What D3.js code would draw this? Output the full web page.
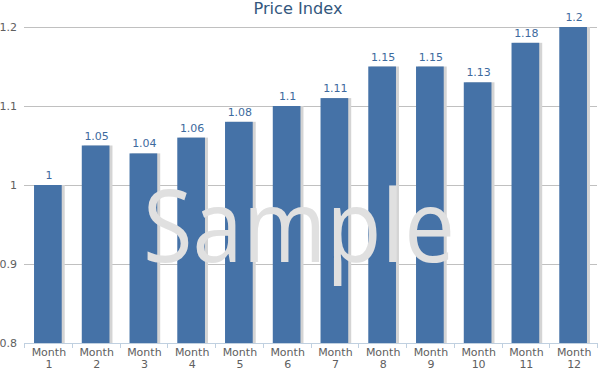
<!DOCTYPE html>
<html><head><meta charset="utf-8">
<script src="https://cdn.jsdelivr.net/npm/d3@7"></script>
<style>body{margin:0;background:#fff}svg{display:block}</style>
</head><body>
<svg id="c" width="599" height="371"></svg>
<script>
const categories = ["Month 1","Month 2","Month 3","Month 4","Month 5","Month 6","Month 7","Month 8","Month 9","Month 10","Month 11","Month 12"];
const values = [1, 1.05, 1.04, 1.06, 1.08, 1.1, 1.11, 1.15, 1.15, 1.13, 1.18, 1.2];
const valueLabels = ["1","1.05","1.04","1.06","1.08","1.1","1.11","1.15","1.15","1.13","1.18","1.2"];
const yTicks = [0.8, 0.9, 1, 1.1, 1.2];
const yTickLabels = ["0.8","0.9","1","1.1","1.2"];
const title = "Price Index";

(function () {
const svg = d3.select("#c");
const font = "DejaVu Sans, Verdana, sans-serif";
const pl = 24, pr = 597, pt = 27, pb = 343;

const x = d3.scaleBand().domain(categories).range([pl, pr]).paddingInner(0.42).paddingOuter(0.21);
const y = d3.scaleLinear().domain([0.8, 1.2]).range([pb, pt]);

svg.append("text").attr("x", 298).attr("y", 14).attr("text-anchor", "middle")
  .attr("font-family", font).attr("font-size", 15).attr("fill", "#34587e")
  .attr("textLength", 89).attr("lengthAdjust", "spacingAndGlyphs").text(title);

// gridlines
svg.append("g").selectAll("line").data(yTicks.slice(1)).join("line")
  .attr("x1", pl).attr("x2", pr).attr("y1", d => Math.round(y(d)) + 0.5).attr("y2", d => Math.round(y(d)) + 0.5)
  .attr("stroke", "#c0c0c0").attr("stroke-width", 1);

// y labels
svg.append("g").selectAll("text").data(yTicks).join("text")
  .attr("x", 17).attr("y", d => y(d) + 4).attr("text-anchor", "end")
  .attr("font-family", font).attr("font-size", 11).attr("fill", "#606060")
  .text((d, i) => yTickLabels[i]);

// bars
const bw = x.bandwidth();
const g = svg.append("g");
g.selectAll("rect.sh").data(values).join("rect").attr("class", "sh")
  .attr("x", (d, i) => x(categories[i]) + 2).attr("y", d => y(d))
  .attr("width", bw + 1).attr("height", d => pb - y(d)).attr("fill", "#d4d4d4");
g.selectAll("rect.bar").data(values).join("rect").attr("class", "bar")
  .attr("x", (d, i) => x(categories[i])).attr("y", d => y(d))
  .attr("width", bw).attr("height", d => pb - y(d)).attr("fill", "#4572a7");

// value labels
svg.append("g").selectAll("text").data(values).join("text")
  .attr("x", (d, i) => x(categories[i]) + bw / 2 + 1).attr("y", d => y(d) - 6)
  .attr("text-anchor", "middle").attr("font-family", font).attr("font-size", 11).attr("fill", "#3d6a9e")
  .text((d, i) => valueLabels[i]);

// x axis
svg.append("line").attr("x1", pl).attr("x2", pr).attr("y1", pb + 0.5).attr("y2", pb + 0.5)
  .attr("stroke", "#c0d0e0").attr("stroke-width", 1);
const tickXs = d3.range(categories.length + 1).map(i => pl + i * (pr - pl) / categories.length);
svg.append("g").selectAll("line").data(tickXs).join("line")
  .attr("x1", d => Math.round(d) + 0.5).attr("x2", d => Math.round(d) + 0.5)
  .attr("y1", pb).attr("y2", pb + 5).attr("stroke", "#c0d0e0");
const xl = svg.append("g").selectAll("text").data(categories).join("text")
  .attr("text-anchor", "middle")
  .attr("font-family", font).attr("font-size", 11).attr("fill", "#606060");
xl.append("tspan").attr("x", d => x(d) + bw / 2 + 1).attr("y", 356).text(d => d.split(" ")[0]);
xl.append("tspan").attr("x", d => x(d) + bw / 2 + 1).attr("y", 368).text(d => d.split(" ")[1]);

// watermark
svg.append("text").attr("x", 143).attr("y", 262).attr("font-family", "Open Sans, sans-serif")
  .attr("font-size", 100).attr("fill", "#e0e0e0").attr("textLength", 312).attr("lengthAdjust", "spacingAndGlyphs")
  .text("Sample");
})();
</script>
</body></html>
